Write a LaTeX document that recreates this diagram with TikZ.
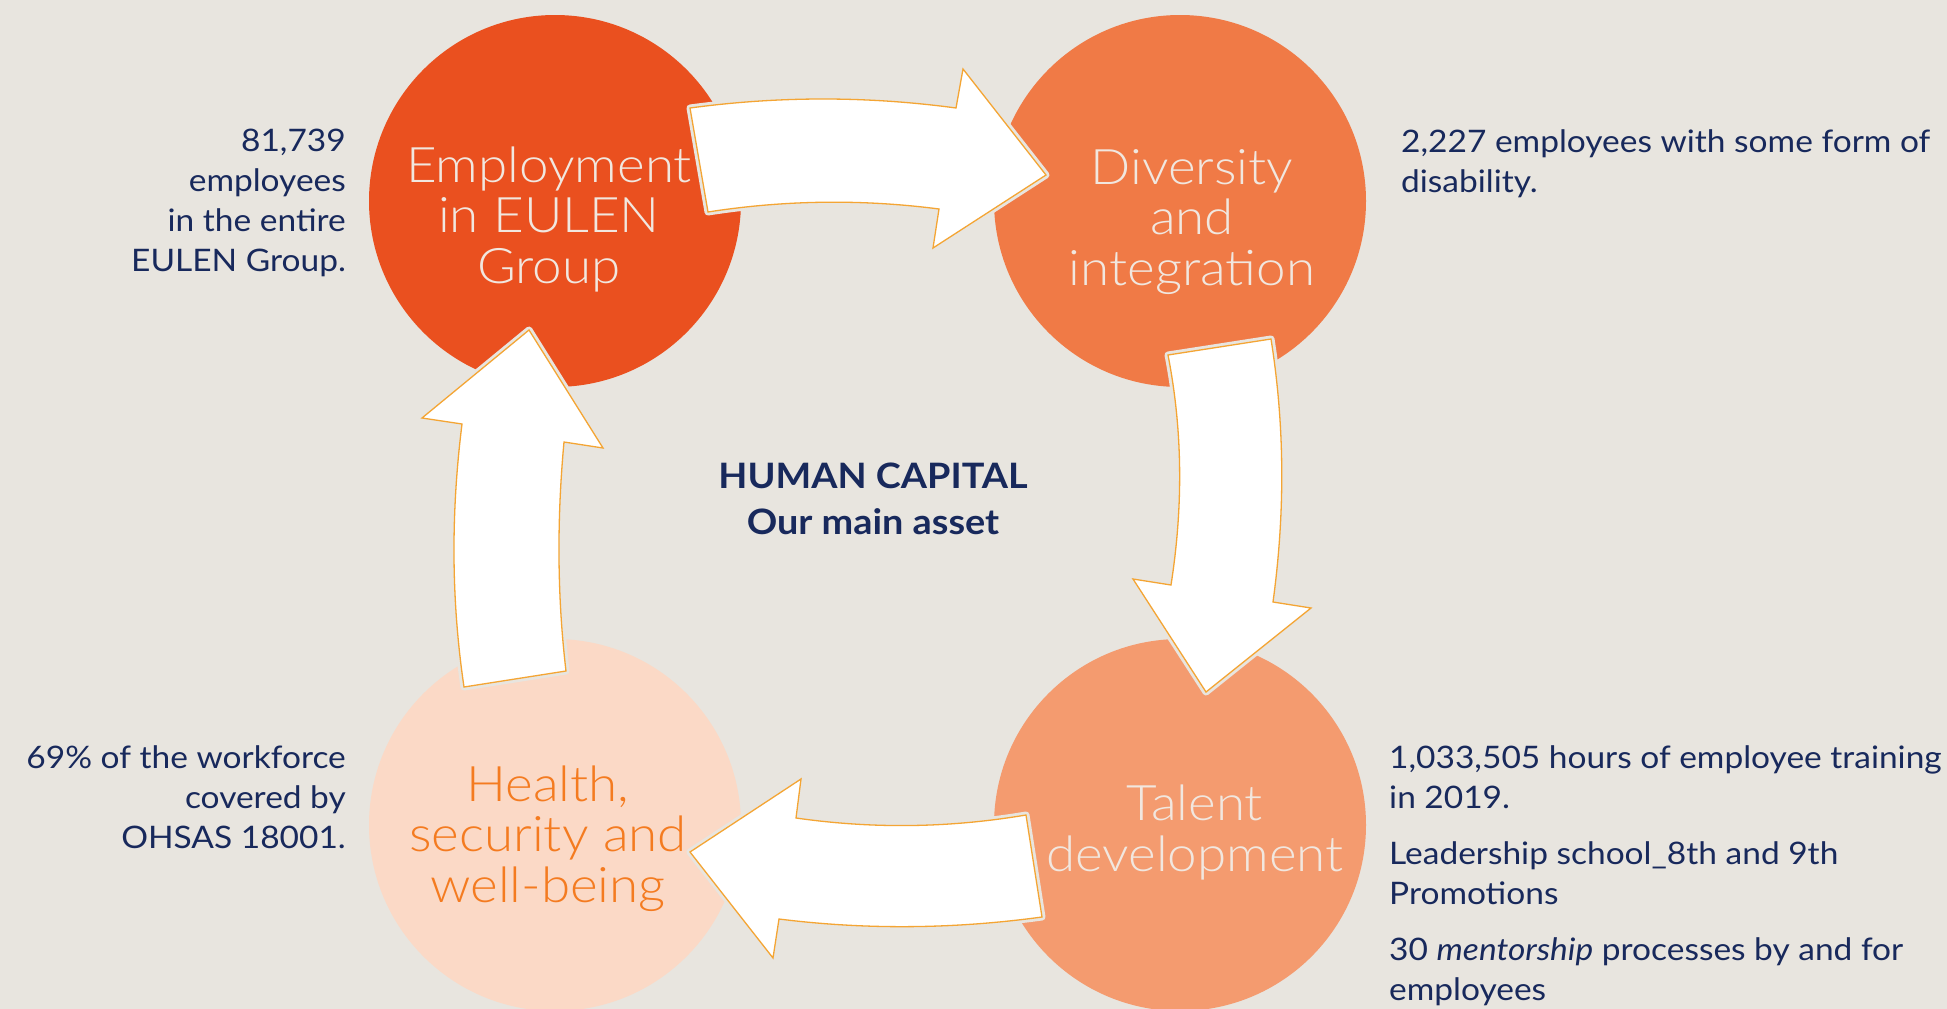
\documentclass[tikz,border=0pt]{standalone}
\usepackage{fontspec}
\setmainfont{Lato}[FakeStretch=1.08]
\newfontfamily\circlefont{Lato Light}[FakeStretch=1.08]
\definecolor{bg}{HTML}{E8E5DF}
\definecolor{cone}{HTML}{EA501F}
\definecolor{ctwo}{HTML}{F07A46}
\definecolor{cthree}{HTML}{FBD9C6}
\definecolor{cfour}{HTML}{F49B6F}
\definecolor{lighttext}{HTML}{F1E7DF}
\definecolor{healthtext}{HTML}{F47B20}
\definecolor{navy}{HTML}{18295C}
\definecolor{arrowline}{HTML}{F4A534}
\begin{document}
\begin{tikzpicture}[x=1pt,y=-1pt,
  bubble/.style={circle, minimum size=372pt, inner sep=0pt},
  ctext/.style={align=center, anchor=base, inner sep=0pt, font=\circlefont\fontsize{49}{50.5}\selectfont},
  side/.style={inner sep=0pt, font=\fontsize{31}{39.7}\selectfont, text=navy},
  title/.style={align=center, anchor=base, inner sep=0pt, font=\bfseries\fontsize{35}{46}\selectfont, text=navy},
  blockarrow/.style={preaction={draw=bg, line width=7pt, line join=round}, fill=white, draw=arrowline, line width=1.3pt, line join=miter}
]
\useasboundingbox (0,0) rectangle (1947,1009);
\clip (0,0) rectangle (1947,1009);
\fill[bg] (0,0) rectangle (1947,1009);

% circles
\node[bubble, fill=cone]   (c1) at (555,201) {};
\node[bubble, fill=ctwo]   (c2) at (1180,201) {};
\node[bubble, fill=cthree] (c3) at (555,825) {};
\node[bubble, fill=cfour]  (c4) at (1180,825) {};

% curved block arrows
\path[blockarrow] (690,108) .. controls (779,96) and (867,96) .. (956,108)
  -- (963,69) -- (1046,175) -- (933,248) -- (939,209)
  .. controls (862,199) and (785,200) .. (708,212) -- cycle;
\path[blockarrow] (1168,355) -- (1271,339)
  .. controls (1285,427) and (1285,514) .. (1273,602)
  -- (1311,608) -- (1206,692) -- (1133,579) -- (1171,585)
  .. controls (1183,508) and (1183,432) .. (1168,355) -- cycle;
\path[blockarrow] (1026,815) .. controls (949,828) and (873,829) .. (796,818)
  -- (801,779) -- (690,852) -- (773,958) -- (779,919)
  .. controls (867,930) and (954,929) .. (1042,917) -- cycle;
\path[blockarrow] (464,687) .. controls (451,599) and (451,512) .. (462,424)
  -- (422,418) -- (529,330) -- (603,448) -- (564,442)
  .. controls (557,518) and (557,595) .. (566,671) -- cycle;

% circle texts (anchored at the baseline of the last line)
\node[ctext, text=lighttext] (t1) at (549,283) {Employment\\in EULEN\\Group};
\node[ctext, text=lighttext] (t2) at (1192,285) {Diversity\\and\\integration};
\node[ctext, text=healthtext] (t3) at (548,902) {Health,\\security and\\well-being};
\node[ctext, text=lighttext] (t4) at (1195,871) {Talent\\development};

% centre title
\node[title] (ttl) at (873,534) {HUMAN CAPITAL\\Our main asset};

% side texts
\node[side, align=right, anchor=base east] (s1) at (346,271) {81,739\\employees\\in the entire\\EULEN Group.};
\node[side, align=left, anchor=base west] (s2) at (1401,192) {2,227 employees with some form of\\disability.};
\node[side, align=right, anchor=base east] (s3) at (346,848) {69\% of the workforce\\covered by\\OHSAS 18001.};
\node[side, align=left, anchor=base west] (s4) at (1389,808) {1,033,505 hours of employee training\\in 2019.};
\node[side, align=left, anchor=base west] (s5) at (1389,904) {Leadership school\_8th and 9th\\Promotions};
\node[side, align=left, anchor=base west] (s6) at (1389,1000) {30 \textit{mentorship} processes by and for\\employees};
\end{tikzpicture}
\end{document}
